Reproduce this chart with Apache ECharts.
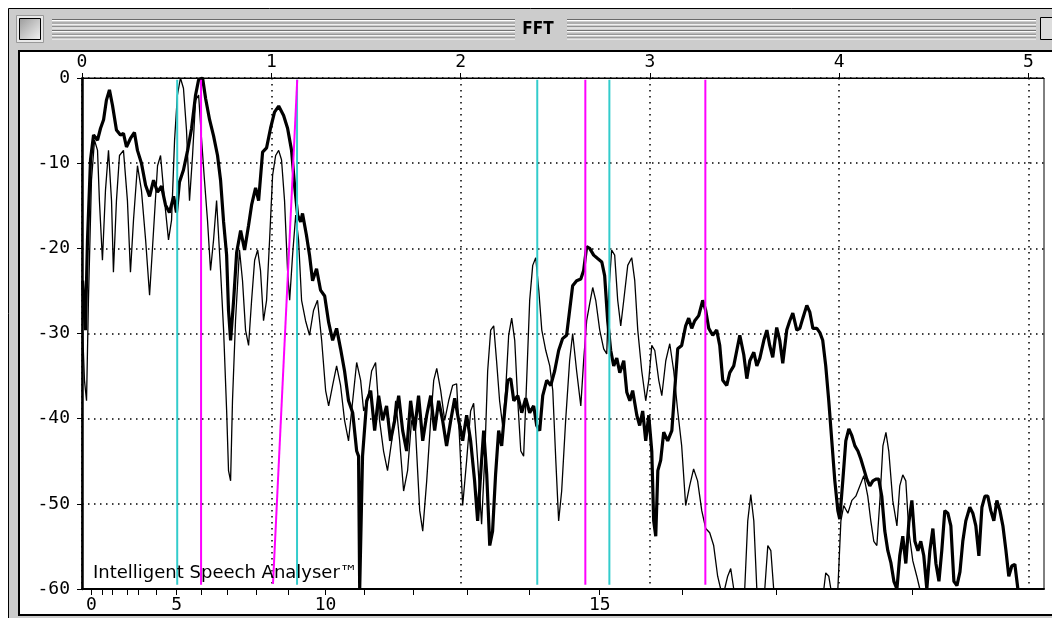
<!DOCTYPE html>
<html><head><meta charset="utf-8">
<script src="https://cdn.jsdelivr.net/npm/echarts@6/dist/echarts.min.js"></script>
<style>html,body{margin:0;padding:0;background:#fff}#c{width:1052px;height:618px}</style>
</head><body><div id="c"></div>
<script>
const windowTitle = 'FFT';
const brandText = 'Intelligent Speech Analyser™';
const kHzTicks = [0, 1, 2, 3, 4, 5];
const kHzMax = 5.082;
const barkTickKHz = [0.050,0.108,0.161,0.240,0.299,0.394,0.500,0.632,0.769,0.922,1.091,1.287,1.493,1.752,2.037,2.365,2.735,3.173,3.665,4.384];
const barkLabelKHz = [0.050, 0.500, 1.287, 2.735];
const barkLabels = ['0', '5', '10', '15'];
const dBMin = -60, dBMax = 0, dBStep = 10;

const thick = [[0.003,-23.8],[0.018,-29.6],[0.029,-19],[0.045,-9.6],[0.061,-6.7],[0.082,-7.3],[0.098,-5.9],[0.114,-4.9],[0.129,-2.6],[0.145,-1.4],[0.161,-3.2],[0.182,-6.1],[0.203,-6.7],[0.219,-6.5],[0.235,-8.1],[0.256,-7.1],[0.277,-6.4],[0.293,-8.5],[0.314,-10],[0.336,-12.6],[0.357,-13.9],[0.378,-12],[0.399,-13.4],[0.420,-12.7],[0.441,-14.9],[0.462,-15.8],[0.484,-13.9],[0.499,-15.8],[0.515,-12.2],[0.536,-10.8],[0.558,-8.5],[0.579,-5.9],[0.600,-2],[0.616,-0.2],[0.637,0],[0.653,-2.4],[0.674,-4.9],[0.695,-6.8],[0.716,-9.1],[0.732,-12],[0.748,-16.9],[0.764,-20.8],[0.774,-27.3],[0.785,-30.8],[0.801,-26.1],[0.817,-20.5],[0.838,-17.9],[0.859,-20.2],[0.880,-17.3],[0.896,-14.9],[0.917,-12.9],[0.933,-14.4],[0.954,-8.7],[0.975,-8.2],[0.996,-5.9],[1.017,-4],[1.039,-3.3],[1.065,-4.4],[1.086,-5.9],[1.107,-8.5],[1.123,-12.6],[1.139,-16.1],[1.155,-16.9],[1.165,-15.9],[1.186,-18.5],[1.202,-20.8],[1.218,-23.8],[1.239,-22.4],[1.260,-24.9],[1.282,-25.6],[1.303,-28.7],[1.324,-30.8],[1.345,-29.4],[1.366,-31.8],[1.387,-34.4],[1.408,-37.9],[1.430,-39.3],[1.451,-43.8],[1.461,-44.4],[1.467,-60],[1.477,-60],[1.482,-44.4],[1.504,-37.9],[1.525,-36.7],[1.546,-41.4],[1.567,-37.3],[1.588,-40.2],[1.609,-38.5],[1.630,-42.6],[1.652,-40.2],[1.673,-37.3],[1.694,-41.4],[1.715,-43.8],[1.736,-37.9],[1.757,-41.4],[1.778,-37.3],[1.800,-42.6],[1.821,-39.6],[1.842,-37.3],[1.863,-41.4],[1.884,-37.9],[1.905,-40.2],[1.926,-43.2],[1.948,-40.2],[1.969,-37.6],[1.990,-40.2],[2.011,-42.6],[2.032,-39.6],[2.053,-42.6],[2.074,-47.3],[2.090,-52],[2.106,-46.5],[2.122,-41.4],[2.138,-46.5],[2.154,-54.9],[2.169,-53.2],[2.185,-46.5],[2.201,-41.4],[2.217,-43.2],[2.233,-39.1],[2.249,-35.5],[2.265,-35.3],[2.281,-37.9],[2.302,-37.3],[2.323,-39.3],[2.344,-37.6],[2.365,-39.3],[2.386,-38.5],[2.402,-40.8],[2.418,-41.4],[2.434,-37.3],[2.455,-35.5],[2.476,-36.1],[2.497,-34.4],[2.518,-32],[2.539,-30.6],[2.560,-30.2],[2.576,-27.3],[2.592,-24.4],[2.613,-23.8],[2.635,-23.6],[2.650,-22.6],[2.666,-19.8],[2.682,-20],[2.703,-20.8],[2.724,-21.2],[2.746,-21.6],[2.761,-23.2],[2.777,-28.5],[2.793,-32],[2.809,-33.8],[2.825,-32.9],[2.841,-34.6],[2.862,-33.2],[2.878,-36.9],[2.894,-37.9],[2.909,-36.7],[2.931,-39.6],[2.946,-40.8],[2.962,-39.1],[2.978,-42.6],[2.994,-39.6],[3.010,-43.8],[3.020,-52],[3.031,-53.8],[3.042,-46.1],[3.057,-44.9],[3.073,-41.6],[3.094,-42.6],[3.116,-41.4],[3.131,-36.7],[3.147,-31.8],[3.168,-31.4],[3.189,-29.1],[3.205,-28.2],[3.221,-29.4],[3.237,-28.5],[3.258,-27.9],[3.279,-26.1],[3.295,-27.3],[3.311,-29.4],[3.332,-30.2],[3.353,-29.6],[3.369,-31.4],[3.385,-35.5],[3.406,-36.1],[3.422,-34.6],[3.443,-33.8],[3.459,-32],[3.475,-30.2],[3.496,-32.5],[3.512,-35.3],[3.528,-33.2],[3.549,-32.2],[3.565,-33.8],[3.581,-32.9],[3.602,-30.8],[3.618,-29.6],[3.633,-31.4],[3.649,-32.8],[3.670,-29.3],[3.686,-30.8],[3.702,-33.5],[3.723,-29.6],[3.739,-28.5],[3.755,-27.6],[3.776,-29.6],[3.792,-29.4],[3.808,-28.2],[3.829,-26.7],[3.845,-27.5],[3.861,-29.4],[3.882,-29.4],[3.898,-29.9],[3.913,-30.8],[3.929,-33.8],[3.945,-37.9],[3.961,-42.6],[3.977,-47.3],[3.993,-50.8],[4.003,-51.8],[4.019,-47.3],[4.035,-42.6],[4.051,-41.2],[4.067,-42],[4.083,-43.2],[4.099,-43.8],[4.114,-44.7],[4.130,-45.9],[4.146,-47.1],[4.162,-47.9],[4.178,-47.3],[4.194,-47.1],[4.209,-47.1],[4.225,-49.1],[4.241,-53.2],[4.257,-55.5],[4.273,-56.9],[4.289,-59.1],[4.305,-60],[4.320,-56.1],[4.336,-53.8],[4.352,-57],[4.368,-52.2],[4.384,-49.6],[4.400,-54.4],[4.416,-55.5],[4.431,-54.4],[4.447,-56.1],[4.463,-60],[4.479,-55.5],[4.495,-52.9],[4.511,-57],[4.527,-59.1],[4.542,-55.5],[4.558,-50.8],[4.574,-51.1],[4.590,-52.6],[4.606,-59.1],[4.622,-59.6],[4.638,-58],[4.653,-54.4],[4.669,-52],[4.690,-50.4],[4.706,-51.1],[4.722,-52.6],[4.738,-56.1],[4.754,-50.4],[4.770,-49.1],[4.785,-49.1],[4.801,-50.8],[4.817,-52],[4.833,-49.6],[4.849,-50.8],[4.865,-52.6],[4.881,-55.5],[4.896,-58.5],[4.912,-57.3],[4.928,-57.1],[4.944,-60]];

const thin = [[0.003,-29.6],[0.013,-35.5],[0.024,-37.9],[0.034,-26.1],[0.050,-12],[0.066,-7.3],[0.082,-8.5],[0.092,-14.4],[0.108,-21.4],[0.124,-13.2],[0.140,-8.5],[0.156,-14.4],[0.166,-22.8],[0.182,-14.4],[0.198,-9.1],[0.219,-8.5],[0.240,-14.4],[0.256,-22.8],[0.272,-16.7],[0.293,-10.3],[0.314,-13.2],[0.336,-19],[0.357,-25.5],[0.378,-17.9],[0.399,-10.3],[0.415,-9.1],[0.436,-14.4],[0.457,-19],[0.473,-16.7],[0.489,-7.3],[0.504,-2],[0.520,0],[0.536,-1.2],[0.552,-6.1],[0.568,-14.4],[0.584,-9.1],[0.600,-2.6],[0.616,-2],[0.632,-7.3],[0.647,-12],[0.663,-16.7],[0.679,-22.6],[0.695,-19],[0.711,-14.4],[0.732,-22.6],[0.748,-29.6],[0.764,-39],[0.774,-46.1],[0.785,-47.3],[0.795,-37.9],[0.811,-28.5],[0.832,-20.2],[0.848,-23.8],[0.864,-29.6],[0.880,-31.4],[0.896,-26.1],[0.912,-21.4],[0.928,-20.2],[0.943,-22.6],[0.959,-28.5],[0.975,-26.1],[0.991,-19],[1.007,-11.4],[1.023,-9.1],[1.039,-8.5],[1.054,-9.6],[1.070,-14.4],[1.086,-22.6],[1.097,-26.1],[1.113,-20.6],[1.129,-16.1],[1.144,-19],[1.160,-26.1],[1.181,-28.5],[1.202,-30.2],[1.223,-27.3],[1.244,-26.1],[1.266,-30.8],[1.287,-36.7],[1.303,-38.5],[1.324,-36.1],[1.345,-33.8],[1.366,-36.1],[1.387,-40.2],[1.408,-42.6],[1.430,-37.9],[1.451,-33.4],[1.472,-35.5],[1.488,-39.1],[1.509,-37.9],[1.530,-34.4],[1.551,-33.4],[1.572,-40.2],[1.593,-43.8],[1.614,-46.1],[1.636,-42.6],[1.657,-37.9],[1.678,-42.6],[1.699,-48.5],[1.720,-46.1],[1.741,-40.2],[1.762,-41.4],[1.784,-50.8],[1.800,-53.2],[1.821,-47.3],[1.842,-40.2],[1.858,-35.5],[1.874,-34.1],[1.895,-36.7],[1.916,-40.2],[1.937,-37.9],[1.958,-36.1],[1.979,-35.9],[1.995,-42.6],[2.011,-50.2],[2.032,-44.9],[2.053,-39.1],[2.069,-38.2],[2.090,-44.9],[2.111,-52.4],[2.127,-44.9],[2.143,-34.4],[2.159,-29.6],[2.175,-29.1],[2.190,-33.2],[2.206,-37.9],[2.222,-40.8],[2.238,-36.7],[2.254,-30.2],[2.270,-28.2],[2.286,-30.8],[2.302,-37.9],[2.318,-43.8],[2.333,-44.4],[2.349,-35.5],[2.365,-26.1],[2.381,-22],[2.397,-21.1],[2.413,-24.9],[2.429,-29.6],[2.450,-32],[2.471,-33.8],[2.487,-36.7],[2.503,-44.9],[2.518,-52],[2.534,-48.5],[2.555,-40.2],[2.576,-33.2],[2.592,-30],[2.613,-34.4],[2.635,-38.5],[2.650,-33.2],[2.666,-28.5],[2.682,-26.5],[2.698,-24.6],[2.714,-26.1],[2.735,-29.6],[2.756,-31.8],[2.772,-32.4],[2.783,-25.1],[2.798,-20.2],[2.814,-20.8],[2.830,-26.1],[2.846,-29.1],[2.862,-26.1],[2.883,-22],[2.904,-21.1],[2.920,-23.8],[2.936,-29.6],[2.957,-34.4],[2.978,-37.9],[2.994,-35.5],[3.010,-31.4],[3.026,-32],[3.047,-35.5],[3.063,-37.3],[3.084,-33.2],[3.105,-31.2],[3.126,-34.4],[3.147,-39.1],[3.168,-43.2],[3.189,-50.2],[3.210,-47.9],[3.231,-45.9],[3.252,-47.3],[3.274,-50.8],[3.295,-52.9],[3.316,-53.4],[3.337,-54.9],[3.358,-58.5],[3.374,-60],[3.395,-60],[3.411,-58.5],[3.427,-57.6],[3.443,-60],[3.501,-60],[3.517,-52],[3.533,-48.9],[3.549,-52],[3.565,-60],[3.607,-60],[3.623,-54.9],[3.639,-55.5],[3.654,-60],[3.919,-60],[3.929,-58.1],[3.945,-58.5],[3.956,-60],[3.993,-60],[4.009,-52],[4.024,-50.2],[4.046,-51.1],[4.067,-49.6],[4.088,-49.1],[4.109,-47.9],[4.130,-46.7],[4.151,-49.1],[4.167,-52],[4.183,-54.4],[4.199,-54.9],[4.215,-49.6],[4.231,-43.2],[4.247,-41.6],[4.262,-43.8],[4.283,-49.6],[4.305,-52.6],[4.320,-47.9],[4.336,-46.6],[4.352,-47.3],[4.368,-53.2],[4.389,-56.7],[4.410,-58.5],[4.426,-60]];

const cyanKHz = [0.503, 1.136, 2.405, 2.786];
const magentaKHz = [0.629, 2.659, 3.293];
const magentaSlant = [[1.009, -59.4], [1.137, -0.2]];
const markerTopDB = -0.2, markerBottomDB = -59.5;

const monoFont = '"DejaVu Sans Mono", "Liberation Mono", monospace';
const chart = echarts.init(document.getElementById('c'), null, {renderer: 'canvas'});

function vline(f, color) {
  return {type: 'line', xAxisIndex: 0, data: [[f, markerTopDB], [f, markerBottomDB]], symbol: 'none', silent: true,
    lineStyle: {color: color, width: 2}, z: 5, animation: false};
}
const dotted = {color: '#000', width: 1.5, type: [1.5, 4.5]};

const series = [
  {type: 'line', xAxisIndex: 0, data: thin, symbol: 'none', lineStyle: {color: '#000', width: 1.3}, z: 3, animation: false, clip: true},
  {type: 'line', xAxisIndex: 0, data: thick, symbol: 'none', lineStyle: {color: '#000', width: 3.2}, z: 4, animation: false, clip: true},
  ...cyanKHz.map(f => vline(f, '#33cccc')),
  ...magentaKHz.map(f => vline(f, '#ff00ff')),
  {type: 'line', xAxisIndex: 0, data: magentaSlant, symbol: 'none', lineStyle: {color: '#ff00ff', width: 2}, z: 5, animation: false}
];

const stripes = [];
[[52, 515], [567, 1036]].forEach(([x1, x2]) => {
  for (let k = 0; k < 6; k++) {
    const y = 19.5 + k * 3.7;
    stripes.push({type: 'line', shape: {x1: x1, y1: y, x2: x2, y2: y}, style: {stroke: '#6a6a6a', lineWidth: 1}, z: 1});
    stripes.push({type: 'line', shape: {x1: x1, y1: y + 1, x2: x2, y2: y + 1}, style: {stroke: '#ffffff', lineWidth: 1}, z: 1});
  }
});

chart.setOption({
  backgroundColor: '#ffffff',
  animation: false,
  grid: {left: 82, top: 78, right: 8, bottom: 29, show: true, borderColor: '#000', borderWidth: 1, backgroundColor: 'transparent'},
  xAxis: [
    {type: 'value', position: 'top', min: 0, max: kHzMax, interval: 1,
      axisLine: {show: true, lineStyle: {color: '#000', width: 1}},
      axisTick: {show: true, length: 5, customValues: kHzTicks, lineStyle: {color: '#000', width: 1}},
      axisLabel: {show: true, customValues: kHzTicks, margin: 7, color: '#000', fontFamily: monoFont, fontSize: 18},
      splitLine: {show: true, lineStyle: dotted}},
    {type: 'value', position: 'bottom', min: 0, max: kHzMax,
      axisLine: {show: true, onZero: false, lineStyle: {color: '#000', width: 2}},
      axisTick: {show: true, length: 6, customValues: barkTickKHz, lineStyle: {color: '#000', width: 1}},
      axisLabel: {show: true, customValues: barkLabelKHz, margin: 7, color: '#000', fontFamily: monoFont, fontSize: 18,
        formatter: v => { let best = 0; barkLabelKHz.forEach((b, i) => { if (Math.abs(b - v) < Math.abs(barkLabelKHz[best] - v)) best = i; }); return barkLabels[best]; }},
      splitLine: {show: false}}
  ],
  yAxis: {type: 'value', min: dBMin, max: dBMax, interval: dBStep,
    axisLine: {show: true, onZero: false, lineStyle: {color: '#000', width: 2.5}},
    axisTick: {show: true, length: 5, lineStyle: {color: '#000', width: 1}},
    axisLabel: {show: true, margin: 12, color: '#000', fontFamily: monoFont, fontSize: 18},
    splitLine: {show: true, lineStyle: dotted}},
  graphic: [
    {type: 'rect', shape: {x: 8.5, y: 8.5, width: 1060, height: 620}, style: {fill: '#cccccc', stroke: '#000', lineWidth: 1}, z: -10, silent: true},
    {type: 'rect', shape: {x: 19, y: 51, width: 1050, height: 564}, style: {fill: '#ffffff', stroke: '#000', lineWidth: 2}, z: -9, silent: true},
    {type: 'rect', shape: {x: 16.5, y: 15.5, width: 27, height: 27}, style: {fill: '#e8e8e8', stroke: '#999', lineWidth: 1}, z: 1, silent: true},
    {type: 'rect', shape: {x: 19.5, y: 18.5, width: 21, height: 21},
      style: {fill: new echarts.graphic.LinearGradient(0, 0, 1, 1, [{offset: 0, color: '#9a9a9a'}, {offset: 1, color: '#f4f4f4'}]), stroke: '#000', lineWidth: 1}, z: 2, silent: true},
    {type: 'rect', shape: {x: 1040.5, y: 17.5, width: 20, height: 22}, style: {fill: '#dddddd', stroke: '#000', lineWidth: 1}, z: 2, silent: true},
    ...stripes,
    {type: 'text', x: 538, y: 30, style: {text: windowTitle, font: 'bold 17px "DejaVu Sans Condensed", "DejaVu Sans", sans-serif', fill: '#000', align: 'center', verticalAlign: 'middle'}, z: 3, silent: true},
    {type: 'text', x: 93, y: 573, style: {text: brandText, font: '18px "DejaVu Sans", sans-serif', fill: '#000', align: 'left', verticalAlign: 'middle'}, z: 100, silent: true}
  ],
  series: series
});
</script>
</body></html>
